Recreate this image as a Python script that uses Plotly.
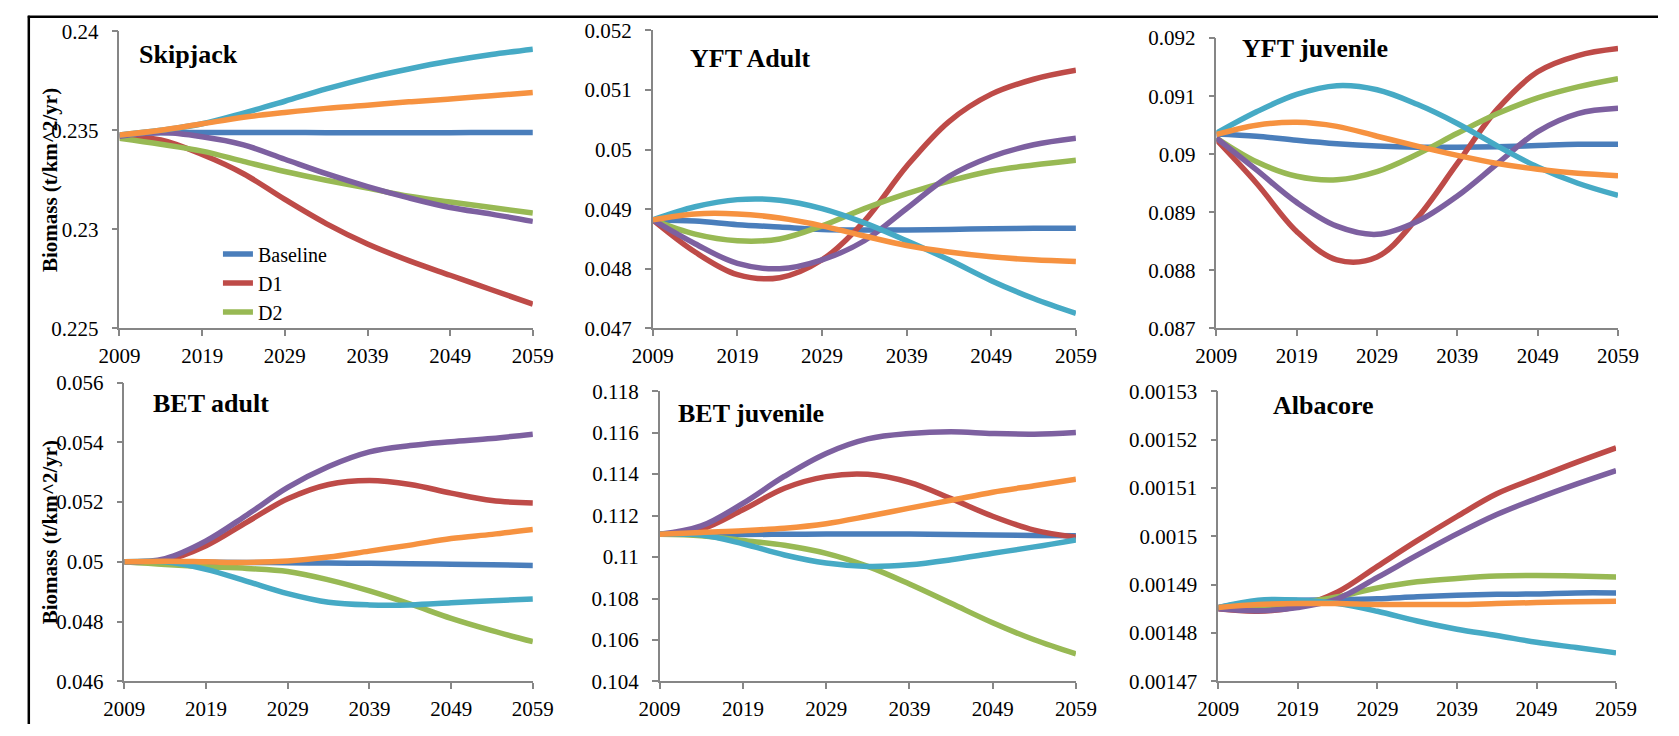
import plotly.graph_objects as go

# ---------------- data ----------------
years = [2009, 2014, 2019, 2024, 2029, 2034, 2039, 2044, 2049, 2054, 2059]
x_tick_vals = [2009, 2019, 2029, 2039, 2049, 2059]
x_tick_text = ["2009", "2019", "2029", "2039", "2049", "2059"]

series_names = ["Baseline", "D1", "D2", "D3", "D4", "D5"]
series_colors = ["#4A7EBB", "#BE4B48", "#98B954", "#7D60A0", "#46AAC5", "#F69240"]
legend_series = ["Baseline", "D1", "D2"]

panel_titles = ["Skipjack", "YFT Adult", "YFT juvenile", "BET adult", "BET juvenile", "Albacore"]
y_title = "Biomass (t/km^2/yr)"

# Skipjack
skj_baseline = [0.23476, 0.23488, 0.23489, 0.23489, 0.23489, 0.23488, 0.23488, 0.23488, 0.23488, 0.23489, 0.23489]
skj_d1 = [0.23468, 0.23452, 0.23378, 0.23281, 0.23151, 0.23029, 0.22926, 0.22842, 0.22768, 0.22695, 0.22622]
skj_d2 = [0.23460, 0.23430, 0.23395, 0.23343, 0.23292, 0.23248, 0.23208, 0.23167, 0.23138, 0.23110, 0.23082]
skj_d3 = [0.23470, 0.23489, 0.23468, 0.23427, 0.23354, 0.23281, 0.23216, 0.23159, 0.23110, 0.23077, 0.23040]
skj_d4 = [0.23476, 0.23500, 0.23533, 0.23587, 0.23647, 0.23709, 0.23764, 0.23810, 0.23850, 0.23883, 0.23910]
skj_d5 = [0.23476, 0.23500, 0.23533, 0.23566, 0.23590, 0.23611, 0.23627, 0.23644, 0.23658, 0.23675, 0.23691]
skj_ticks = [0.225, 0.23, 0.235, 0.24]
skj_ticktext = ["0.225", "0.23", "0.235", "0.24"]

# YFT adult
yfta_baseline = [0.04882, 0.04880, 0.04874, 0.04870, 0.04866, 0.04865, 0.04865, 0.04866, 0.04867, 0.04868, 0.04868]
yfta_d1 = [0.04882, 0.04828, 0.04790, 0.04785, 0.04815, 0.04880, 0.04972, 0.05047, 0.05093, 0.05118, 0.05133]
yfta_d2 = [0.04882, 0.04858, 0.04847, 0.04850, 0.04872, 0.04901, 0.04926, 0.04947, 0.04964, 0.04974, 0.04982]
yfta_d3 = [0.04882, 0.04842, 0.04809, 0.04800, 0.04815, 0.04847, 0.04901, 0.04955, 0.04988, 0.05008, 0.05019]
yfta_d4 = [0.04882, 0.04904, 0.04916, 0.04915, 0.04901, 0.04877, 0.04847, 0.04815, 0.04780, 0.04750, 0.04725]
yfta_d5 = [0.04882, 0.04892, 0.04892, 0.04885, 0.04872, 0.04855, 0.04839, 0.04828, 0.04820, 0.04815, 0.04812]
yfta_ticks = [0.047, 0.048, 0.049, 0.05, 0.051, 0.052]
yfta_ticktext = ["0.047", "0.048", "0.049", "0.05", "0.051", "0.052"]

# YFT juvenile
yftj_baseline = [0.09035, 0.09031, 0.09024, 0.09018, 0.09014, 0.09012, 0.09012, 0.09013, 0.09015, 0.09017, 0.09017]
yftj_d1 = [0.09025, 0.08950, 0.08867, 0.08818, 0.08823, 0.08890, 0.08984, 0.09078, 0.09142, 0.09170, 0.09182]
yftj_d2 = [0.09028, 0.08987, 0.08962, 0.08956, 0.08970, 0.09000, 0.09036, 0.09070, 0.09097, 0.09116, 0.09130]
yftj_d3 = [0.09028, 0.08973, 0.08917, 0.08876, 0.08862, 0.08884, 0.08928, 0.08984, 0.09039, 0.09070, 0.09079]
yftj_d4 = [0.09036, 0.09073, 0.09103, 0.09118, 0.09111, 0.09086, 0.09053, 0.09014, 0.08978, 0.08950, 0.08929]
yftj_d5 = [0.09034, 0.09050, 0.09055, 0.09048, 0.09031, 0.09014, 0.08998, 0.08984, 0.08974, 0.08967, 0.08963]
yftj_ticks = [0.087, 0.088, 0.089, 0.09, 0.091, 0.092]
yftj_ticktext = ["0.087", "0.088", "0.089", "0.09", "0.091", "0.092"]

# BET adult
beta_baseline = [0.05000, 0.05000, 0.04999, 0.04998, 0.04997, 0.04996, 0.04995, 0.04994, 0.04992, 0.04990, 0.04988]
beta_d1 = [0.05000, 0.05005, 0.05054, 0.05133, 0.05211, 0.05259, 0.05272, 0.05259, 0.05230, 0.05205, 0.05197]
beta_d2 = [0.05000, 0.04991, 0.04984, 0.04978, 0.04968, 0.04940, 0.04903, 0.04859, 0.04811, 0.04770, 0.04733]
beta_d3 = [0.05000, 0.05011, 0.05070, 0.05157, 0.05249, 0.05319, 0.05368, 0.05389, 0.05402, 0.05413, 0.05427]
beta_d4 = [0.05000, 0.05000, 0.04975, 0.04935, 0.04894, 0.04865, 0.04856, 0.04856, 0.04863, 0.04870, 0.04876]
beta_d5 = [0.05000, 0.05002, 0.05000, 0.04998, 0.05003, 0.05016, 0.05036, 0.05056, 0.05078, 0.05092, 0.05108]
beta_ticks = [0.046, 0.048, 0.05, 0.052, 0.054, 0.056]
beta_ticktext = ["0.046", "0.048", "0.05", "0.052", "0.054", "0.056"]

# BET juvenile
betj_baseline = [0.11110, 0.11110, 0.11109, 0.11110, 0.11111, 0.11111, 0.11111, 0.11109, 0.11106, 0.11104, 0.11103]
betj_d1 = [0.11110, 0.11134, 0.11228, 0.11332, 0.11388, 0.11399, 0.11360, 0.11282, 0.11197, 0.11130, 0.11096]
betj_d2 = [0.11110, 0.11103, 0.11080, 0.11057, 0.11018, 0.10955, 0.10870, 0.10777, 0.10683, 0.10601, 0.10533]
betj_d3 = [0.11110, 0.11150, 0.11259, 0.11390, 0.11500, 0.11570, 0.11596, 0.11604, 0.11596, 0.11593, 0.11601]
betj_d4 = [0.11110, 0.11106, 0.11064, 0.11010, 0.10971, 0.10955, 0.10963, 0.10987, 0.11018, 0.11049, 0.11083]
betj_d5 = [0.11110, 0.11119, 0.11127, 0.11139, 0.11161, 0.11197, 0.11236, 0.11274, 0.11313, 0.11344, 0.11375]
betj_ticks = [0.104, 0.106, 0.108, 0.11, 0.112, 0.114, 0.116, 0.118]
betj_ticktext = ["0.104", "0.106", "0.108", "0.11", "0.112", "0.114", "0.116", "0.118"]

# Albacore
alb_baseline = [0.0014853, 0.0014866, 0.0014868, 0.0014869, 0.0014871, 0.0014875, 0.0014878, 0.0014880, 0.0014881, 0.0014883, 0.0014883]
alb_d1 = [0.0014850, 0.0014845, 0.0014855, 0.0014885, 0.0014938, 0.0014991, 0.0015041, 0.0015088, 0.0015121, 0.0015153, 0.0015183]
alb_d2 = [0.0014852, 0.0014850, 0.0014861, 0.0014875, 0.0014893, 0.0014906, 0.0014913, 0.0014918, 0.0014919, 0.0014918, 0.0014916]
alb_d3 = [0.0014850, 0.0014846, 0.0014853, 0.0014871, 0.0014915, 0.0014961, 0.0015005, 0.0015045, 0.0015078, 0.0015108, 0.0015136]
alb_d4 = [0.0014853, 0.0014868, 0.0014868, 0.0014861, 0.0014845, 0.0014825, 0.0014808, 0.0014795, 0.0014781, 0.0014770, 0.0014759]
alb_d5 = [0.0014853, 0.0014859, 0.0014861, 0.0014861, 0.0014859, 0.0014859, 0.0014859, 0.0014861, 0.0014863, 0.0014865, 0.0014866]
alb_ticks = [0.00147, 0.00148, 0.00149, 0.0015, 0.00151, 0.00152, 0.00153]
alb_ticktext = ["0.00147", "0.00148", "0.00149", "0.0015", "0.00151", "0.00152", "0.00153"]

panel_series = [
    [skj_baseline, skj_d1, skj_d2, skj_d3, skj_d4, skj_d5],
    [yfta_baseline, yfta_d1, yfta_d2, yfta_d3, yfta_d4, yfta_d5],
    [yftj_baseline, yftj_d1, yftj_d2, yftj_d3, yftj_d4, yftj_d5],
    [beta_baseline, beta_d1, beta_d2, beta_d3, beta_d4, beta_d5],
    [betj_baseline, betj_d1, betj_d2, betj_d3, betj_d4, betj_d5],
    [alb_baseline, alb_d1, alb_d2, alb_d3, alb_d4, alb_d5],
]
panel_ticks = [skj_ticks, yfta_ticks, yftj_ticks, beta_ticks, betj_ticks, alb_ticks]
panel_ticktext = [skj_ticktext, yfta_ticktext, yftj_ticktext, beta_ticktext, betj_ticktext, alb_ticktext]

# ---------------- layout (pixels) ----------------
W, H = 1679, 736
# plot areas: (left, right, top, bottom) in px
areas = [
    (101, 525, 20, 327),
    (648, 1082, 19, 327),
    (1226, 1638, 27, 327),
    (106, 525, 383, 692),
    (655, 1082, 392, 692),
    (1228, 1636, 392, 692),
]
title_pos = [(119, 44), (684, 48), (1250, 38), (133, 405), (672, 415), (1282, 407)]

FONT = "Liberation Serif, Times New Roman, serif"
AXIS_COLOR = "#868686"

fig = go.Figure()

for p in range(6):
    xa = "x" if p == 0 else f"x{p+1}"
    ya = "y" if p == 0 else f"y{p+1}"
    for s in range(6):
        fig.add_trace(go.Scatter(
            x=years, y=panel_series[p][s], xaxis=xa, yaxis=ya,
            mode="lines", name=series_names[s],
            line=dict(color=series_colors[s], width=5.5, shape="spline", smoothing=1.0),
            showlegend=(p == 0 and series_names[s] in legend_series),
            hoverinfo="x+y+name",
        ))

layout = dict(
    width=W, height=H, autosize=False,
    margin=dict(l=0, r=0, t=0, b=0),
    paper_bgcolor="white", plot_bgcolor="white",
    font=dict(family=FONT, size=21, color="black"),
    showlegend=True,
    legend=dict(x=202 / W, y=1 - 230 / H, xanchor="left", yanchor="top",
                bgcolor="rgba(0,0,0,0)", font=dict(family=FONT, size=20, color="black"),
                traceorder="normal", tracegroupgap=0, itemwidth=30),
)

for p in range(6):
    l, r, t, b = areas[p]
    xk = "xaxis" if p == 0 else f"xaxis{p+1}"
    yk = "yaxis" if p == 0 else f"yaxis{p+1}"
    ya = "y" if p == 0 else f"y{p+1}"
    xa = "x" if p == 0 else f"x{p+1}"
    ticks = panel_ticks[p]
    layout[xk] = dict(
        domain=[l / W, r / W], anchor=ya, range=[years[0], years[-1]],
        tickmode="array", tickvals=x_tick_vals, ticktext=x_tick_text,
        showline=True, linecolor=AXIS_COLOR, linewidth=1.5,
        ticks="outside", ticklen=6, tickwidth=1.5, tickcolor=AXIS_COLOR,
        showgrid=False, zeroline=False, ticklabelstandoff=2,
        tickfont=dict(family=FONT, size=21, color="black"), fixedrange=True,
    )
    layout[yk] = dict(
        domain=[1 - b / H, 1 - t / H], anchor=xa, range=[ticks[0], ticks[-1]],
        tickmode="array", tickvals=ticks, ticktext=panel_ticktext[p],
        showline=True, linecolor=AXIS_COLOR, linewidth=1.5,
        ticks="outside", ticklen=6, tickwidth=1.5, tickcolor=AXIS_COLOR,
        showgrid=False, zeroline=False, ticklabelstandoff=9,
        tickfont=dict(family=FONT, size=21, color="black"), fixedrange=True,
    )

fig.update_layout(**layout)

annotations = []
for p in range(6):
    tx, ty = title_pos[p]
    annotations.append(dict(
        text=f"<b>{panel_titles[p]}</b>", xref="paper", yref="paper",
        x=tx / W, y=1 - ty / H, xanchor="left", yanchor="middle", showarrow=False,
        font=dict(family=FONT, size=26, color="black"),
    ))
for p in (0, 3):
    l, r, t, b = areas[p]
    annotations.append(dict(
        text=f"<b>{y_title}</b>", xref="paper", yref="paper",
        x=30 / W, y=1 - (t + b) / 2 / H, xanchor="center", yanchor="middle",
        textangle=-90, showarrow=False,
        font=dict(family=FONT, size=21, color="black"),
    ))
fig.update_layout(annotations=annotations)

# outer frame (top and left edges)
fig.update_layout(shapes=[
    dict(type="line", xref="paper", yref="paper", x0=7 / W, x1=1.0, y0=1 - 5 / H, y1=1 - 5 / H,
         line=dict(color="black", width=2.5)),
    dict(type="line", xref="paper", yref="paper", x0=8 / W, x1=8 / W, y0=0, y1=1 - 4 / H,
         line=dict(color="black", width=2.5)),
])

fig.write_html(
    "out.html",
    config={"displayModeBar": False},
    post_script="document.body.style.margin='0';document.body.style.padding='0';"
                "document.documentElement.style.overflow='hidden';",
)
